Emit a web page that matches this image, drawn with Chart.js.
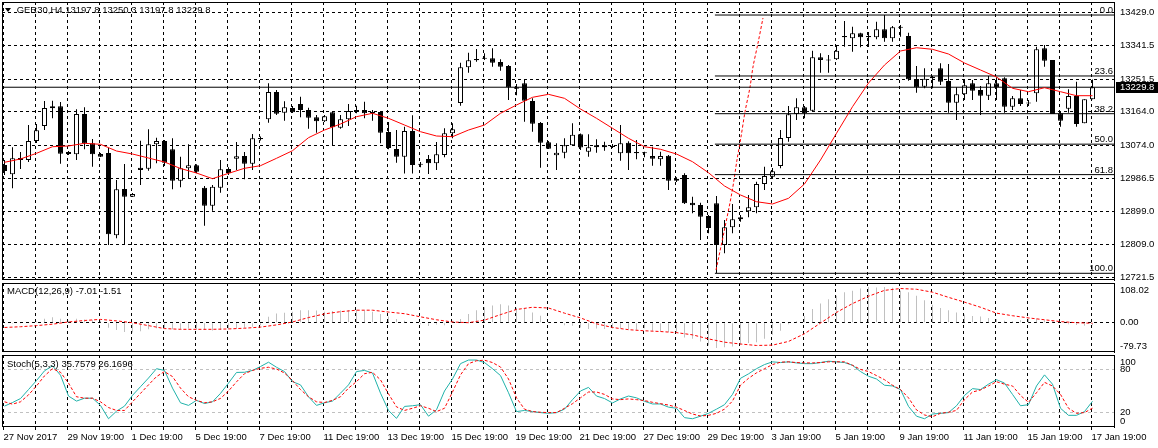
<!DOCTYPE html>
<html>
<head>
<meta charset="utf-8">
<title>.GER30,H4</title>
<script src="https://cdn.jsdelivr.net/npm/chart.js@4.4.1/dist/chart.umd.min.js"></script>
<style>
html,body{margin:0;padding:0;background:#fff;}
body{width:1158px;height:448px;overflow:hidden;position:relative;font-family:"Liberation Sans",Arial,sans-serif;}
.pane{position:absolute;left:0;}
.pane canvas{display:block;}
.txt{position:absolute;font-size:9.5px;line-height:11px;color:#000;white-space:pre;}
.tri{position:absolute;left:5px;top:8px;width:0;height:0;border-left:3px solid transparent;border-right:3px solid transparent;border-top:4px solid #000;}
</style>
</head>
<body>
<div class="pane" style="top:-20px"><canvas id="cMain" width="1158" height="320"></canvas></div>
<div class="pane" style="top:281px"><canvas id="cMacd" width="1158" height="73"></canvas></div>
<div class="pane" style="top:353px"><canvas id="cStoch" width="1158" height="95"></canvas></div>
<div class="tri"></div>
<div class="txt" id="hdr" style="left:14px;top:4px"></div>
<div class="txt" id="hMacd" style="left:7px;top:285px"></div>
<div class="txt" id="hStoch" style="left:7px;top:358px"></div>
<script>
// ---------------- data ----------------
const symbol = '.GER30,H4';
const opens = [13022.0,12997.2,13040.7,13035.4,13086.1,13126.2,13173.5,13178.9,13056.8,13050.6,
13158.3,13080.0,13051.4,13054.1,12834.2,12957.9,12937.3,13014.8,13012.1,13077.3,
13086.1,13064.0,12980.1,13013.2,13021.2,12961.4,12913.3,12961.4,13011.3,13038.8,
13046.1,13025.5,13094.2,13144.2,13217.1,13161.8,13174.3,13185.0,13169.0,13149.5,
13138.8,13162.8,13121.7,13144.2,13169.0,13169.0,13163.6,13163.6,13110.2,13064.8,
13044.2,13112.9,13024.7,13038.1,13026.6,13048.7,13106.7,13187.7,13283.1,13305.3,
13307.9,13307.1,13297.2,13286.6,13229.6,13240.3,13193.0,13134.2,13082.7,13047.9,
13054.9,13074.7,13104.1,13057.6,13069.3,13074.7,13073.3,13053.3,13081.6,13056.8,
13054.9,13046.1,13037.3,13046.9,12985.4,12995.3,12921.3,12915.1,12885.7,12919.7,
12808.3,12855.6,12877.0,12898.3,12909.0,12971.3,12990.7,13019.3,13094.2,13158.3,
13176.2,13167.1,13309.8,13303.9,13304.5,13366.7,13360.5,13373.9,13366.7,13363.2,
13384.6,13360.5,13390.0,13366.7,13251.8,13231.2,13258.0,13280.4,13246.5,13188.5,
13210.9,13240.3,13222.4,13207.2,13240.3,13253.7,13177.8,13200.2,13187.7,13213.6,
13333.8,13302.6,13160.2,13172.4,13206.4,13133.4,13197.8];
const highs = [13035.4,13069.3,13056.8,13128.9,13131.6,13193.0,13193.8,13190.4,13059.4,13170.8,
13176.2,13091.5,13054.1,13067.4,12981.9,13024.7,12947.2,13087.0,13117.4,13095.0,
13088.8,13093.4,13044.2,13077.3,13023.9,12965.9,12968.6,13035.4,13015.9,13083.5,
13056.8,13104.9,13098.2,13240.3,13222.5,13192.2,13179.7,13204.5,13175.1,13155.6,
13155.6,13164.4,13155.6,13185.0,13180.5,13191.2,13169.0,13166.3,13136.9,13115.5,
13124.3,13154.8,13030.0,13048.7,13083.5,13120.1,13133.4,13295.4,13322.1,13332.0,
13320.5,13333.8,13304.5,13289.2,13238.5,13251.0,13200.2,13136.9,13086.1,13080.0,
13093.4,13133.4,13106.2,13104.1,13090.7,13084.3,13078.1,13128.9,13085.3,13088.8,
13057.6,13070.9,13057.6,13048.7,12989.2,12999.8,12937.3,12921.3,12888.4,12939.2,
12875.1,12917.8,12888.4,12941.9,12977.4,13017.5,13014.0,13115.5,13179.7,13200.2,
13179.7,13327.4,13320.5,13316.0,13340.0,13406.8,13391.6,13375.5,13377.4,13404.9,
13422.8,13393.4,13396.1,13375.5,13286.6,13280.4,13259.8,13293.8,13291.9,13229.6,
13249.1,13249.1,13233.1,13259.8,13256.4,13256.4,13206.4,13222.4,13195.7,13338.1,
13342.7,13302.6,13164.4,13224.3,13244.6,13197.6,13250.3];
const lows = [12995.3,12959.8,13011.3,13030.0,13080.8,13115.5,13146.8,13025.5,13048.7,13035.4,
13064.0,13017.5,13043.4,12808.3,12826.2,12810.9,12936.5,12968.6,13006.8,13026.6,
13019.3,12957.1,12962.4,12986.5,12999.8,12859.8,12899.9,12948.0,12995.3,13008.7,
12983.8,13008.7,13087.5,13135.0,13155.6,13140.4,13160.9,13149.5,13119.0,13108.3,
13136.9,13075.5,13119.0,13126.2,13160.2,13146.8,13140.4,13080.0,13064.0,13028.2,
12999.4,12999.4,13015.9,12998.0,13008.7,13042.6,13093.4,13180.5,13268.6,13298.0,
13302.6,13284.7,13274.0,13195.7,13208.3,13137.7,13111.0,13014.8,13064.8,13008.7,
13039.9,13074.0,13062.1,13044.2,13054.9,13060.2,13067.5,13033.5,13008.7,13037.3,
13042.6,13020.2,13020.2,12955.2,12976.6,12917.8,12892.9,12821.6,12839.5,12733.4,
12786.1,12839.5,12870.5,12882.3,12892.9,12955.2,12987.3,13013.2,13084.3,13142.3,
13146.8,13164.4,13268.6,13268.6,13302.6,13338.1,13324.8,13336.5,13337.3,13357.9,
13351.5,13351.5,13364.8,13247.3,13215.2,13227.0,13227.0,13235.8,13161.8,13142.3,
13195.7,13195.7,13155.6,13195.7,13195.7,13161.8,13169.0,13179.7,13179.7,13191.2,
13284.7,13158.3,13124.3,13161.8,13124.3,13133.4,13197.8];
const closes = [13006.0,13039.9,13035.4,13086.1,13114.7,13174.3,13178.9,13052.2,13051.4,13158.3,
13080.0,13050.6,13044.2,12836.9,12957.1,12937.3,12944.5,13008.7,13077.3,13086.1,
13028.2,12980.1,13013.2,13021.2,13004.1,12913.3,12964.0,13010.5,12999.8,13045.3,
13025.5,13093.4,13090.7,13217.1,13159.1,13176.2,13162.8,13169.0,13148.4,13138.8,
13152.2,13122.8,13144.2,13166.3,13163.6,13160.2,13160.2,13108.3,13067.4,13044.2,
13112.9,13022.0,13022.8,13026.6,13050.6,13106.7,13117.4,13283.1,13301.8,13301.8,
13306.0,13295.4,13284.7,13229.6,13225.9,13193.8,13132.4,13081.6,13065.6,13054.9,
13074.7,13103.0,13068.8,13069.3,13074.7,13069.3,13070.1,13080.0,13053.3,13053.3,
13053.3,13038.8,13046.1,12980.1,12980.1,12919.7,12914.3,12883.9,12853.7,12808.3,
12855.6,12877.0,12882.3,12909.0,12971.3,12992.6,13005.2,13094.2,13157.5,13176.2,
13160.2,13309.8,13302.6,13301.3,13327.4,13363.2,13373.9,13363.2,13363.2,13384.6,
13360.5,13390.0,13388.6,13251.0,13229.6,13252.6,13253.7,13244.6,13188.5,13210.9,
13235.0,13220.6,13207.2,13240.3,13229.6,13177.8,13200.2,13185.0,13186.1,13331.2,
13300.7,13158.3,13140.4,13206.4,13131.6,13197.6,13229.8];

// red moving average, read at every second bar: [bar, price]
const maPoints = [[0,13029.2],[2,13038.1],[4,13053.3],[6,13070.9],[8,13072.8],[10,13080.0],[12,13077.3],
[14,13059.4],[16,13051.4],[18,13040.7],[20,13030.0],[22,13012.7],[24,13000.6],[26,12985.4],[28,12999.8],
[30,13013.2],[32,13020.2],[34,13039.9],[36,13060.2],[38,13095.0],[40,13115.5],[42,13131.6],[44,13151.1],
[46,13160.2],[48,13146.8],[50,13128.9],[52,13111.0],[54,13099.5],[56,13097.6],[58,13115.5],[60,13128.9],
[62,13160.2],[64,13182.3],[66,13202.9],[68,13210.9],[70,13200.2],[72,13171.6],[74,13146.8],[76,13120.1],
[78,13093.4],[80,13070.9],[82,13064.0],[84,13051.4],[86,13030.8],[88,13001.4],[90,12965.9],[92,12941.9],
[94,12923.9],[96,12917.8],[98,12933.0],[100,12971.3],[102,13035.4],[104,13106.7],[106,13177.8],[108,13241.1],
[110,13289.2],[112,13326.6],[114,13335.4],[116,13331.2],[118,13318.6],[120,13294.6],[122,13275.9],[124,13257.2],
[126,13227.0],[128,13217.9],[130,13228.6],[132,13217.9],[134,13207.2],[136,13207.2]];

// red dotted drawing line near the late-December low: [bar, price]
const arcPoints = [[88.94,12741.5],[89.94,12843.0],[90.94,12949.9],[91.56,13035.4],[92.06,13096.8],
[92.56,13163.6],[93.19,13230.4],[93.56,13283.9],[94.19,13348.0],[94.81,13414.8]];

// Fibonacci retracement
const fibLevels = [13422.8, 13259.9, 13159.1, 13077.7, 12996.3, 12732.6];
const fibLabels = ['0.0', '23.6', '38.2', '50.0', '61.8', '100.0'];
const fibStartBar = 88.8;

const priceTicks = [12721.5, 12809.0, 12899.0, 12986.5, 13074.0, 13164.0, 13251.5, 13341.5, 13429.0];

// MACD(12,26,9)
const macdHist = [-2,-3,-2,1,3,11,15,11,5,11,
9,7,5,-14,-20,-25,-27,-23,-18,-15,
-16,-18,-18,-16,-18,-20,-21,-20,-18,-16,
-14,-11,-7,16,25,27,30,34,34,33,
30,32,33,34,35,33,30,24,17,10,
5,1,-4,-9,-5,-7,5,10,24,34,
42,47,50,47,41,38,28,19,2,0,
-7,-8,-13,-17,-16,-17,-16,-15,-17,-19,
-15,-22,-24,-25,-28,-40,-44,-51,-62,-69,
-67,-65,-60,-55,-53,-44,-33,-22,-4,4,
18,37,52,64,73,83,87,93,97,96,
97,95,87,83,73,61,49,40,34,28,
22,18,17,13,10,5,4,7,11,11,
7,4,0,-4,-6,-8,-7.01];
const macdSignalPoints = [[0,-13],[2,-11],[4,-8],[6,-4],[8,2],[10,6],[12,9],[14,5],[16,0],[18,-8],[20,-16],
[22,-18],[24,-18],[26,-18],[28,-17],[30,-15],[32,-12],[34,-6],[36,2],[38,14],[40,24],[42,30],[44,34],
[46,34],[48,29],[50,24.5],[52,16],[54,8],[56,2],[58,0],[60,7],[62,22],[64,36],[66,42],[68,40],[70,26],
[72,13],[74,-3],[76,-13],[78,-19],[80,-22],[82,-24],[84,-27],[86,-33],[88,-44],[90,-53],[92,-58],
[94,-62],[96,-61],[98,-51],[100,-30],[102,-1],[104,28],[106,52],[108,72],[110,88],[112,93],[114,91],
[116,83],[118,69],[120,56],[122,42],[124,26],[126,19],[128,13],[130,8],[132,3],[134,0],[136,-1.51]];
const macdTicks = [108.02, 0, -79.73];
const macdTickLabels = ['108.02', '0.00', '-79.73'];

// Stochastic(5,3,3)
const stochK = [29,34,39.5,52,64.5,78,85,72,43,36,
40,40,30,11.5,22,29,44,56,68,81,
78.6,54,33.6,30,37,32.6,35,46.7,61,75.8,
76,78.6,84,90,83,77,63,58.5,42,30,
33.6,36,47,58.5,77,78.6,75,47,23,12,
28.6,29.5,31,15,24,50,66.7,88,93,93,
89.5,81,71.4,47.6,21.4,23,21.4,20,19,20,
24.8,38,50,55,43,39.5,33.4,39,43,40.5,
35.7,32,32,27.6,26,13,11.5,15,19,24.8,
31,45.3,67.6,73.8,81,86.7,90.5,89.5,90.5,89,
88,88,89.5,91.4,90.5,89.5,85.7,77,70.5,66.7,
58,57,52,28.6,15,11.5,18,19,20,29.5,
43.8,53.3,52,59.5,65.7,61,45.3,29.5,31,57,
72.4,59.5,26,16.2,16.2,21.4,35.7579];
const stochD = [35,31.7,35,44.6,57,71,81,76,61,42,
40,40,35,27,23,23,35,46.7,58.5,70,
77,70,54,42,37,33.6,35,39.7,50,62.7,
74,78.6,81.5,83,80.5,75,64.5,52,42,35,
34,37,42,54,63,74,76,65.5,46,28,
23,26,29.5,26,21.4,26,48.6,72.4,88,92,
92.8,89.5,83.3,66.7,40.5,24.8,21.4,20.5,20,20,
26,32.4,40.5,48.6,48.6,45.3,39,38,39,38,
36.7,34.3,32.4,30.5,27.6,22.9,18,15.3,16.2,19,
24.8,36,58,67.6,75.2,81,86.7,90,90.5,89.5,
89,89,89.5,90.5,90.5,90.5,85.7,80,77,71.4,
65.7,58,52,40.5,23.8,16.7,14.3,19,20.5,23,
38,48.6,51.4,57,62.9,59.5,57,43.8,34.3,47.6,
62,57,45.3,26,19,20,26.1696];
const stochTicks = [100, 80, 20, 0];
const stochTickLabels = ['100', '80', '20', '0'];

// time axis labels, one every 8 bars
const xLabels = ['27 Nov 2017','29 Nov 19:00','1 Dec 19:00','5 Dec 19:00','7 Dec 19:00','11 Dec 19:00',
'13 Dec 19:00','15 Dec 19:00','19 Dec 19:00','21 Dec 19:00','27 Dec 19:00','29 Dec 19:00',
'3 Jan 19:00','5 Jan 19:00','9 Jan 19:00','11 Jan 19:00','15 Jan 19:00','17 Jan 19:00'];

// ---------------- layout constants ----------------
const X_MIN = -0.3125, X_MAX = 138.6875;        // visible bar range (8 px per bar)
const PRICE_MIN = 12714.7, PRICE_MAX = 13457.6;
const gridTicks = Array.from({length: 35}, (_, k) => 4 * k - 0.125);
const FONT = '9.5px "Liberation Sans", Arial, sans-serif';

Chart.defaults.font.family = '"Liberation Sans", Arial, sans-serif';
Chart.defaults.font.size = 9.5;
Chart.defaults.color = '#000';

const N = closes.length;
const last = N - 1;

document.getElementById('hdr').textContent =
  symbol + ' ' + [opens[last], highs[last], lows[last], closes[last]].map(v => v.toFixed(1)).join(' ');
document.getElementById('hMacd').textContent =
  'MACD(12,26,9) ' + macdHist[last].toFixed(2) + ' ' + macdSignalPoints[macdSignalPoints.length - 1][1].toFixed(2);
document.getElementById('hStoch').textContent =
  'Stoch(5,3,3) ' + stochK[last].toFixed(4) + ' ' + stochD[last].toFixed(4);

function makeX(showLabels) {
  const o = {
    type: 'linear', min: X_MIN, max: X_MAX, offset: false,
    afterBuildTicks: s => { s.ticks = gridTicks.map(v => ({value: v})); },
    grid: {display: true, color: '#000', lineWidth: 1, drawTicks: showLabels, tickLength: 3, tickColor: '#000', offset: false},
    border: {display: false, dash: [3, 3]},
    ticks: {display: showLabels, autoSkip: false, maxRotation: 0, minRotation: 0, align: 'start', padding: 2,
      color: '#000', font: {size: 9.5}, callback: (v, i) => (i % 2 === 0 ? xLabels[i / 2] : '')}
  };
  if (showLabels) o.afterFit = s => { s.height = 21; };
  return o;
}

const common = {
  responsive: false, animation: false, events: [],
  plugins: {legend: {display: false}, tooltip: {enabled: false}}
};

function drawFrame(chart) {
  const {ctx, chartArea: a} = chart;
  ctx.save();
  ctx.strokeStyle = '#000'; ctx.lineWidth = 1;
  ctx.strokeRect(a.left + 0.5, a.top + 0.5, a.right - a.left, a.bottom - a.top - 1);
  ctx.restore();
}

function paneDecor(values, labels) {
  return {
    id: 'paneDecor',
    afterDraw(chart) {
      drawFrame(chart);
      const s = chart.scales.y, ctx = chart.ctx;
      ctx.save();
      ctx.font = FONT; ctx.fillStyle = '#000'; ctx.textAlign = 'left'; ctx.textBaseline = 'middle';
      values.forEach((v, i) => {
        let y = s.getPixelForValue(v);
        y = Math.min(Math.max(y, s.top + 7), s.bottom - 6);
        ctx.fillText(labels[i], s.left + 6, y);
      });
      ctx.restore();
    }
  };
}

const mainDecor = {
  id: 'mainDecor',
  afterDraw(chart) {
    drawFrame(chart);
    const {ctx, chartArea: a} = chart;
    const y = chart.scales.y;
    ctx.save();
    ctx.font = FONT; ctx.fillStyle = '#000'; ctx.textAlign = 'right'; ctx.textBaseline = 'alphabetic';
    fibLevels.forEach((v, i) => ctx.fillText(fibLabels[i], a.right - 1, y.getPixelForValue(v) - 2));
    const py = Math.round(y.getPixelForValue(closes[last]));
    ctx.fillStyle = '#000';
    ctx.fillRect(y.left + 2, py - 5, chart.width - y.left - 2, 11);
    ctx.fillStyle = '#fff'; ctx.textAlign = 'left'; ctx.textBaseline = 'middle';
    ctx.fillText(closes[last].toFixed(1), y.left + 6, py + 0.5);
    ctx.restore();
  }
};

const idx = Array.from({length: N}, (_, i) => i);
const bodyData = idx.map(i => ({x: i, y: [opens[i], closes[i]]}));
const wickData = idx.map(i => ({x: i, y: [lows[i], highs[i]]}));
const toXY = p => ({x: p[0], y: p[1]});
const lineBase = {type: 'line', borderWidth: 1, pointRadius: 0, tension: 0, fill: false};

// ---------------- main price pane ----------------
new Chart(document.getElementById('cMain'), {
  type: 'line',
  data: {datasets: [
    Object.assign({}, lineBase, {data: maPoints.map(toXY), borderColor: '#ff0000', order: 0}),
    Object.assign({}, lineBase, {data: [{x: X_MIN, y: closes[last]}, {x: X_MAX, y: closes[last]}], borderColor: '#000', order: 1}),
    ...fibLevels.map(v => Object.assign({}, lineBase, {data: [{x: fibStartBar, y: v}, {x: X_MAX, y: v}], borderColor: '#000', order: 1})),
    Object.assign({}, lineBase, {data: arcPoints.map(toXY), borderColor: '#ff0000', borderDash: [3, 2], tension: 0.3, order: 1}),
    {type: 'bar', data: bodyData,
      backgroundColor: c => (c.dataIndex === undefined ? '#000' : (closes[c.dataIndex] >= opens[c.dataIndex] ? '#fff' : '#000')),
      borderColor: '#000', borderWidth: 1, borderSkipped: false, grouped: false, maxBarThickness: 5,
      barPercentage: 1, categoryPercentage: 1, inflateAmount: 0, minBarLength: 1, order: 2},
    {type: 'bar', data: wickData, backgroundColor: '#000', borderWidth: 0, grouped: false, maxBarThickness: 1,
      barPercentage: 1, categoryPercentage: 1, inflateAmount: 0, order: 3}
  ]},
  options: Object.assign({}, common, {
    layout: {padding: {left: 2, right: 0, top: 22, bottom: 20}},
    scales: {
      x: makeX(false),
      y: {position: 'right', min: PRICE_MIN, max: PRICE_MAX,
        afterBuildTicks: s => { s.ticks = priceTicks.map(v => ({value: v})); },
        afterFit: s => { s.width = 44; },
        grid: {color: '#000', lineWidth: 1, drawTicks: false},
        border: {display: true, color: '#000', width: 1, dash: [3, 3]},
        ticks: {padding: 6, color: '#000', font: {size: 9.5}, callback: v => v.toFixed(1)}}
    }
  }),
  plugins: [mainDecor]
});

// ---------------- MACD pane ----------------
new Chart(document.getElementById('cMacd'), {
  type: 'line',
  data: {datasets: [
    Object.assign({}, lineBase, {data: macdSignalPoints.map(toXY), borderColor: '#ff0000', borderDash: [3, 2], order: 0}),
    {type: 'bar', data: macdHist.map((v, i) => ({x: i, y: v})), backgroundColor: '#c0c0c0', borderWidth: 0,
      grouped: false, maxBarThickness: 1, barPercentage: 1, categoryPercentage: 1, inflateAmount: 0, order: 1}
  ]},
  options: Object.assign({}, common, {
    layout: {padding: {left: 2, right: 0, top: 2, bottom: 2}},
    scales: {
      x: makeX(false),
      y: {position: 'right', min: macdTicks[2], max: macdTicks[0],
        afterBuildTicks: s => { s.ticks = macdTicks.map(v => ({value: v})); },
        afterFit: s => { s.width = 44; },
        grid: {color: c => (c.tick && c.tick.value === 0 ? '#000' : 'rgba(0,0,0,0)'), drawTicks: false},
        border: {display: true, color: '#000', width: 1, dash: [3, 3]},
        ticks: {display: false}}
    }
  }),
  plugins: [paneDecor(macdTicks, macdTickLabels)]
});

// ---------------- Stochastic pane ----------------
new Chart(document.getElementById('cStoch'), {
  type: 'line',
  data: {datasets: [
    Object.assign({}, lineBase, {data: stochD.map((v, i) => ({x: i, y: v})), borderColor: '#ff0000', borderDash: [3, 2], order: 0}),
    Object.assign({}, lineBase, {data: stochK.map((v, i) => ({x: i, y: v})), borderColor: '#20b2aa', order: 1})
  ]},
  options: Object.assign({}, common, {
    layout: {padding: {left: 2, right: 0, top: 2, bottom: 0}},
    scales: {
      x: makeX(true),
      y: {position: 'right', min: 0, max: 100,
        afterBuildTicks: s => { s.ticks = stochTicks.map(v => ({value: v})); },
        afterFit: s => { s.width = 44; },
        grid: {color: c => (c.tick && (c.tick.value === 20 || c.tick.value === 80) ? '#c0c0c0' : 'rgba(0,0,0,0)'), drawTicks: false},
        border: {display: true, color: '#000', width: 1, dash: [3, 3]},
        ticks: {display: false}}
    }
  }),
  plugins: [paneDecor(stochTicks, stochTickLabels)]
});
</script>
</body>
</html>
